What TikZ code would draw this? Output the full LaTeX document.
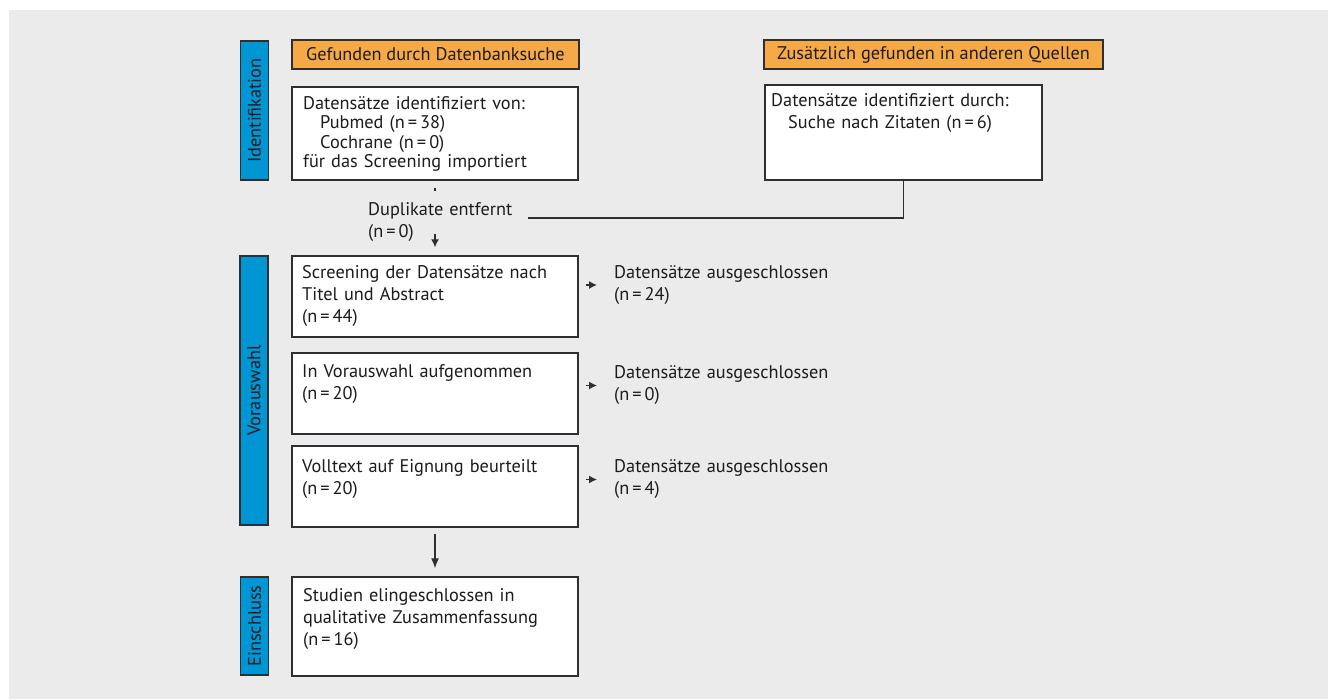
\documentclass[tikz,border=0pt]{standalone}
\usepackage{fontspec}
\setmainfont{PT Sans}
\usetikzlibrary{arrows.meta}
\definecolor{bggray}{HTML}{EBEBEC}
\definecolor{headorange}{HTML}{F6A947}
\definecolor{phaseblue}{HTML}{0096D3}
\definecolor{framegray}{HTML}{2E2F33}
\definecolor{inkgray}{HTML}{1C1C1E}

\begin{document}
\begin{tikzpicture}[x=1pt, y=-1pt,
font=\fontsize{18.3}{22}\selectfont, text=inkgray,
header/.style={rectangle, minimum height=29, draw=framegray, fill=headorange, line width=1.5pt, inner sep=0},
record/.style={rectangle, minimum width=286, minimum height=81, draw=framegray, fill=white, line width=1.5pt},
phase/.style={rectangle, minimum height=28, draw=framegray, fill=phaseblue, line width=1.5pt, rotate=90, inner sep=0},
entry/.style={anchor=west, inner sep=0, text width=275, align=left},
link/.style={draw=framegray, line width=1.3pt},
smallarrow/.style={link, -{Latex[length=8pt, width=8pt]}},
bigarrow/.style={link, -{Latex[length=10pt, width=8pt]}},
]

\useasboundingbox (0,0) rectangle (1328,699);
\fill[bggray] (9,10) rectangle (1328,699);

\node (idbar) [phase, minimum width=139] at (254.5,110.5) {Identifikation};
\node (vorbar) [phase, minimum width=269] at (254,390.5) {Vorauswahl};
\node (einbar) [phase, minimum width=98] at (254.5,626) {Einschluss};

\node (dbhead) [header, minimum width=287] at (435.5,54.5) {Gefunden durch Datenbanksuche};
\node (otherhead) [header, minimum width=339] at (933.5,54.5) {Zusätzlich gefunden in anderen Quellen};

\node (dbrec) [record, minimum height=93] at (435,133.5) {};
\node (citrec) [record, minimum width=277, minimum height=95] at (903.5,132.5) {};
\node (screen) [record] at (435,296.5) {};
\node (preselect) [record] at (435,393.5) {};
\node (fulltext) [record] at (435,486.5) {};
\node (included) [record, minimum height=99] at (435,626.5) {};

\node (a) [entry, font=\fontsize{18.3}{19.5}\selectfont] at (303,134) {Datensätze identifiziert von:\\\hspace*{17pt}Pubmed (n\,=\,38)\\\hspace*{17pt}Cochrane (n\,=\,0)\\für das Screening importiert};
\node (b) [entry] at (771,113) {Datensätze identifiziert durch:\\\hspace*{17pt}Suche nach Zitaten (n\,=\,6)};
\node (c) [entry] at (302,296) {Screening der Datensätze nach\\Titel und Abstract\\(n\,=\,44)};
\node (d) [entry] at (302,384.5) {In Vorauswahl aufgenommen\\(n\,=\,20)};
\node (e) [entry] at (302,479) {Volltext auf Eignung beurteilt\\(n\,=\,20)};
\node (f) [entry] at (303,618.5) {Studien elingeschlossen in\\qualitative Zusammenfassung\\(n\,=\,16)};

\node (dup) [entry, text width=160] at (368,222) {Duplikate entfernt\\(n\,=\,0)};
\node (ex1) [entry, text width=240] at (614,285) {Datensätze ausgeschlossen\\(n\,=\,24)};
\node (ex2) [entry, text width=240] at (614,385.5) {Datensätze ausgeschlossen\\(n\,=\,0)};
\node (ex3) [entry, text width=240] at (614,479.5) {Datensätze ausgeschlossen\\(n\,=\,4)};

\coordinate (dupend) at (528,218);

\draw[link, shorten <=7, shorten >=64] (dbrec.south) -- (screen.north);
\draw[smallarrow, shorten <=53, shorten >=8] (dbrec.south) -- (screen.north);
\draw[link] (citrec.south) |- (dupend);
\draw[smallarrow, shorten <=7, shorten >=17] (ex1.west -| screen.east) -- (ex1.west);
\draw[smallarrow, shorten <=7, shorten >=17] (ex2.west -| preselect.east) -- (ex2.west);
\draw[smallarrow, shorten <=7, shorten >=17] (ex3.west -| fulltext.east) -- (ex3.west);
\draw[bigarrow, shorten <=6, shorten >=8] (fulltext.south) -- (included.north);

\end{tikzpicture}
\end{document}
